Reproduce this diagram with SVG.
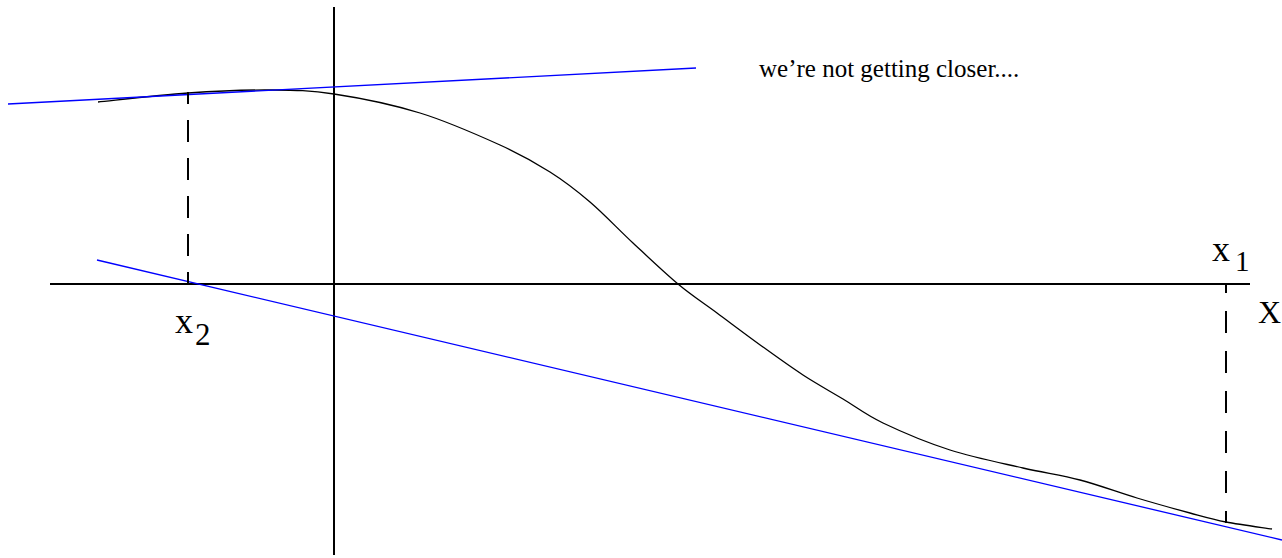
<svg xmlns="http://www.w3.org/2000/svg" width="1282" height="558" viewBox="0 0 1282 558">
<style>
.axis{stroke:#000;stroke-width:2;fill:none}
.dash{stroke:#000;stroke-width:2;fill:none}
.curve{stroke:#000;stroke-width:1.3;fill:none}
.tan{stroke:#0000ff;stroke-width:1.3;fill:none}
text{font-family:"Liberation Serif","Times New Roman",serif;fill:#000}
</style>
<rect width="1282" height="558" fill="#fff"/>
<g id="axes">
<line class="axis" x1="50" y1="284" x2="1250" y2="284"/>
<line class="axis" x1="334" y1="7" x2="334" y2="555"/>
</g>
<g id="function-curve">
<path class="curve" d="M98,102 C113,100.5 159.3,95 188,93 C216.7,91 245.7,89.8 270,90 C294.3,90.2 309,90.2 334,94 C359,97.8 392.3,104.5 420,113 C447.7,121.5 478.3,135.2 500,145 C521.7,154.8 535,162.5 550,172 C565,181.5 576.2,190.2 590,202 C603.8,213.8 618.3,229.3 633,243 C647.7,256.7 664,272.3 678,284 C692,295.7 702.8,302.5 717,313 C731.2,323.5 748.7,336.7 763,347 C777.3,357.3 789.7,366.3 803,375 C816.3,383.7 829.7,391 843,399 C856.3,407 865.2,414.5 883,423 C900.8,431.5 926.7,442.5 950,450 C973.3,457.5 1001.3,463 1023,468 C1044.7,473 1061,475 1080,480 C1099,485 1118.7,492.5 1137,498 C1155.3,503.5 1175.2,509 1190,513 C1204.8,517 1212.3,519.3 1226,522 C1239.7,524.7 1264.3,527.8 1272,529"/>
</g>
<g id="connectors">
<line class="tan" x1="8" y1="104" x2="696" y2="68"/>
<line class="tan" x1="97" y1="260" x2="1282" y2="540"/>
<line class="dash" x1="188" y1="284" x2="188" y2="92" stroke-dasharray="22 16" stroke-dashoffset="10"/>
<line class="dash" x1="1226" y1="284" x2="1226" y2="523" stroke-dasharray="22 18" stroke-dashoffset="13"/>
</g>
<g id="label-caption">
<text x="759" y="77" font-size="25">we’re not getting closer....</text>
</g>
<g id="label-x1">
<text x="1212" y="261" font-size="36">x</text>
<text x="1235" y="271" font-size="29">1</text>
</g>
<g id="label-x2">
<text x="175" y="333" font-size="36">x</text>
<text x="195" y="345" font-size="31">2</text>
</g>
<g id="label-X">
<text x="1258" y="323" font-size="32">X</text>
</g>
</svg>
